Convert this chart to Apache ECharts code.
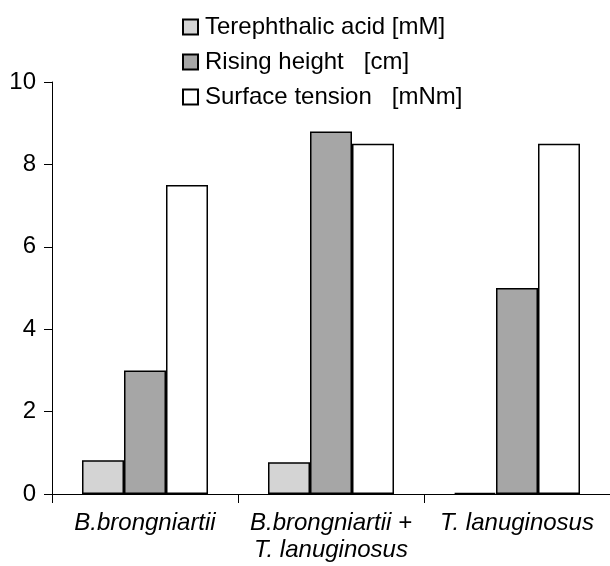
<!DOCTYPE html>
<html>
<head>
<meta charset="utf-8">
<script src="https://cdn.jsdelivr.net/npm/echarts@6/dist/echarts.min.js"></script>
<style>
  html, body { margin: 0; padding: 0; background: #fff; }
  #chart { width: 610px; height: 566px; }
</style>
</head>
<body>
<div id="chart"></div>
<script>
// data
const categories = ['B.brongniartii', 'B.brongniartii +\nT. lanuginosus', 'T. lanuginosus']
const terephthalic = [0.82, 0.77, 0.03]
const risingHeight = [3.0, 8.8, 5.0]
const surfaceTension = [7.5, 8.5, 8.5]
const seriesNames = ['Terephthalic acid [mM]', 'Rising height   [cm]', 'Surface tension   [mNm]']
const seriesColors = ['#d4d4d4', '#a6a6a6', '#ffffff']

const FONT = 'Liberation Sans, Arial, sans-serif'

const chart = echarts.init(document.getElementById('chart'))

const barStyle = (color) => ({
  color: color,
  borderColor: '#000',
  borderWidth: 1.5
})

chart.setOption({
  animation: false,
  backgroundColor: '#fff',
  grid: { left: 52, right: -3, top: 82, bottom: 72 },
  legend: {
    orient: 'vertical',
    left: 177,
    top: 10,
    itemWidth: 15,
    itemHeight: 15,
    itemGap: 11,
    icon: 'rect',
    textStyle: { fontFamily: FONT, fontSize: 24, color: '#000', padding: [0, 0, 0, 2] },
    data: seriesNames
  },
  xAxis: {
    type: 'category',
    data: categories,
    axisLine: { lineStyle: { color: '#000', width: 1 } },
    axisTick: { show: true, length: 9, lineStyle: { color: '#000' } },
    axisLabel: {
      interval: 0,
      margin: 16,
      fontFamily: FONT,
      fontSize: 24,
      fontStyle: 'italic',
      color: '#000',
      lineHeight: 27
    }
  },
  yAxis: {
    type: 'value',
    min: 0,
    max: 10,
    interval: 2,
    splitLine: { show: false },
    axisLine: { show: true, lineStyle: { color: '#000', width: 1 } },
    axisTick: { show: true, length: 8, lineStyle: { color: '#000' } },
    axisLabel: { margin: 16, fontFamily: FONT, fontSize: 24, color: '#000' }
  },
  series: [
    { name: seriesNames[0], type: 'bar', data: terephthalic, barWidth: 42, barGap: '0%', itemStyle: barStyle(seriesColors[0]) },
    { name: seriesNames[1], type: 'bar', data: risingHeight, barWidth: 42, barGap: '0%', itemStyle: barStyle(seriesColors[1]) },
    { name: seriesNames[2], type: 'bar', data: surfaceTension, barWidth: 42, barGap: '0%', itemStyle: barStyle(seriesColors[2]) }
  ]
})
</script>
</body>
</html>
